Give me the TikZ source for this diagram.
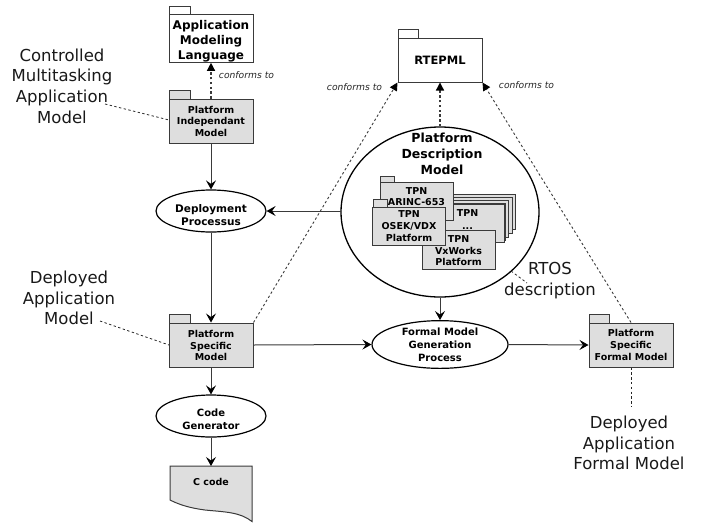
\documentclass[tikz,border=0pt]{standalone}
\usepackage{fontspec}
\setmainfont{DejaVu Sans}
\usetikzlibrary{arrows.meta,shapes.geometric}
\definecolor{pkg}{HTML}{DEDEDE}
\definecolor{ln}{HTML}{3A3A3A}
\tikzset{
  x=1pt,y=-1pt,
  pkgbox/.style={draw=ln,line width=1pt,fill=pkg,minimum width=84pt,minimum height=44pt,inner sep=0pt,align=center,font=\bfseries\fontsize{9.5}{11.7}\selectfont},
  metabox/.style={pkgbox,fill=white},
  smallbox/.style={pkgbox,minimum width=73pt,minimum height=38pt},
  tabbox/.style={draw=ln,line width=0.9pt,fill=pkg},
  proc/.style={draw=black,line width=1.2pt,fill=white,ellipse,inner sep=0pt,align=center},
  flow/.style={draw=ln,line width=1pt,-{Stealth[length=9pt,width=10pt,inset=3.5pt,black]}},
  conf/.style={draw=ln,dash pattern=on 2.4pt off 2.4pt,line width=0.9pt,-{Triangle[length=8pt,width=8pt,black,sep=0pt]}},
  confthick/.style={conf,line width=1.3pt},
  note/.style={draw=black!85,dash pattern=on 2.4pt off 2.4pt,line width=0.8pt},
  big/.style={align=center,font=\fontsize{16.5}{20.7}\selectfont,inner sep=0pt,text=black!90},
  conft/.style={font=\itshape\fontsize{9.2}{11}\selectfont,inner sep=0pt,text=black!85}
}
\begin{document}
\begin{tikzpicture}
\useasboundingbox (0,0) rectangle (711,522);
% packages
\draw[tabbox,fill=white] (169,15) rectangle (190,6);
\node[metabox,minimum height=47pt,font=\bfseries\fontsize{12}{15.2}\selectfont] (aml) at (211,38.5) {\\[-0.6pt]Application\\Modeling\\Language};
\draw[tabbox] (169,99) rectangle (190,90);
\node[pkgbox] (pim) at (211,121) {\\[-4pt]Platform\\Independant\\Model};
\draw[tabbox] (169,323) rectangle (190,314);
\node[pkgbox] (psm) at (211,345) {\\[-3.5pt]Platform\\Specific\\Model};
\draw[tabbox,fill=white] (398,38) rectangle (418,29);
\node[metabox,font=\bfseries\fontsize{11.5}{14}\selectfont] (rte) at (440,60) {RTEPML};
\draw[tabbox] (589,323) rectangle (609,314);
\node[pkgbox] (psf) at (631,345) {\\[-4.5pt]Platform\\Specific\\Formal Model};
% processes
\node[proc,minimum width=110pt,minimum height=42pt,font=\bfseries\fontsize{10.5}{12.7}\selectfont] (dep) at (211,211) {\\[3pt]Deployment\\Processus};
\node[proc,minimum width=110pt,minimum height=42pt,font=\bfseries\fontsize{10}{12.7}\selectfont] (gen) at (211,416) {\\[1pt]Code\\Generator};
\node[proc,minimum width=136pt,minimum height=47pt,font=\bfseries\fontsize{10}{13}\selectfont] (fmg) at (440,344.5) {Formal Model\\Generation\\Process};
\node[ellipse,draw=black,line width=1.3pt,fill=white,minimum width=198pt,minimum height=170pt,inner sep=0pt] (pdm) at (440,212) {};
\node[align=center,inner sep=0pt,font=\bfseries\fontsize{12.5}{16}\selectfont] (pdmt) at (442,154) {Platform\\Description\\Model};
% stack
\draw[tabbox] (441,194) rectangle (515,229);
\draw[tabbox] (438,197) rectangle (512,233);
\draw[tabbox] (435,200) rectangle (508,237);
\draw[tabbox] (432,203) rectangle (505,240);
\node[smallbox,minimum width=73pt,minimum height=38pt,anchor=north east,text depth=7pt] (tpn) at (504.5,204) {TPN\\[1.3pt]...};
\node[smallbox,minimum height=39pt] (vx) at (458.5,249.5) {\\[-2.5pt]TPN\\VxWorks\\Platform};
\draw[tabbox] (380,183) rectangle (394,176);
\node[smallbox] (ari) at (416.5,201.5) [text depth=10pt] {TPN\\ARINC-653};
\draw[tabbox] (373,207) rectangle (387,199);
\node[smallbox] (ose) at (409,226) {TPN\\OSEK/VDX\\Platform};
% C code
\draw[draw=ln,line width=1pt,fill=pkg] (170,466) -- (252,466) -- (252,521.5) .. controls (240,512) and (225,512) .. (205,510) .. controls (190,508) and (180,505) .. (170,500) -- cycle;
\node[inner sep=0pt,font=\bfseries\fontsize{9.5}{12}\selectfont] (cc) at (211,482) {C code};
\coordinate (cctop) at (211,466);
% flows
\draw[flow] (pim) -- (dep);
\draw[flow] (dep) -- (psm);
\draw[flow] (psm) -- (gen);
\draw[flow] (gen) -- (cctop);
\coordinate (pdml) at (341,211);
\draw[flow] (pdml) -- (dep.east);
\draw[flow] (pdm.south) -- (fmg);
\draw[flow] (psm.east) -- (fmg.west);
\draw[flow] (fmg.east) -- (psf.west);
% conforms
\draw[confthick] (pim) -- (aml);
\draw[confthick] (pdm.north) -- (rte);
\draw[conf] (psm.north east) -- (rte.south west);
\draw[conf] (psf.north) -- (rte.south east);
\node[conft] (c1) at (246.5,75) {conforms to};
\node[conft] (c2) at (354.5,87) {conforms to};
\node[conft] (c3) at (526.5,85) {conforms to};
% annotations
\node[big] (t1) at (62,86) {Controlled\\Multitasking\\Application\\Model};
\node[big] (t2) at (69,298) {Deployed\\Application\\Model};
\node[big] (t3) at (550,280.5) {RTOS\\description};
\node[big] (t4) at (629,443) {Deployed\\Application\\Formal Model};
\coordinate (n1) at (105,104);
\coordinate (n1b) at (169,120);
\coordinate (n2) at (100,321);
\coordinate (n2b) at (169,345);
\coordinate (n3) at (511,271);
\coordinate (n3b) at (527,283);
\coordinate (n4) at (631,407);
\draw[note] (n1) -- (n1b);
\draw[note] (n2) -- (n2b);
\draw[note] (n3) -- (n3b);
\draw[note] (psf.south) -- (n4);
\end{tikzpicture}
\end{document}
